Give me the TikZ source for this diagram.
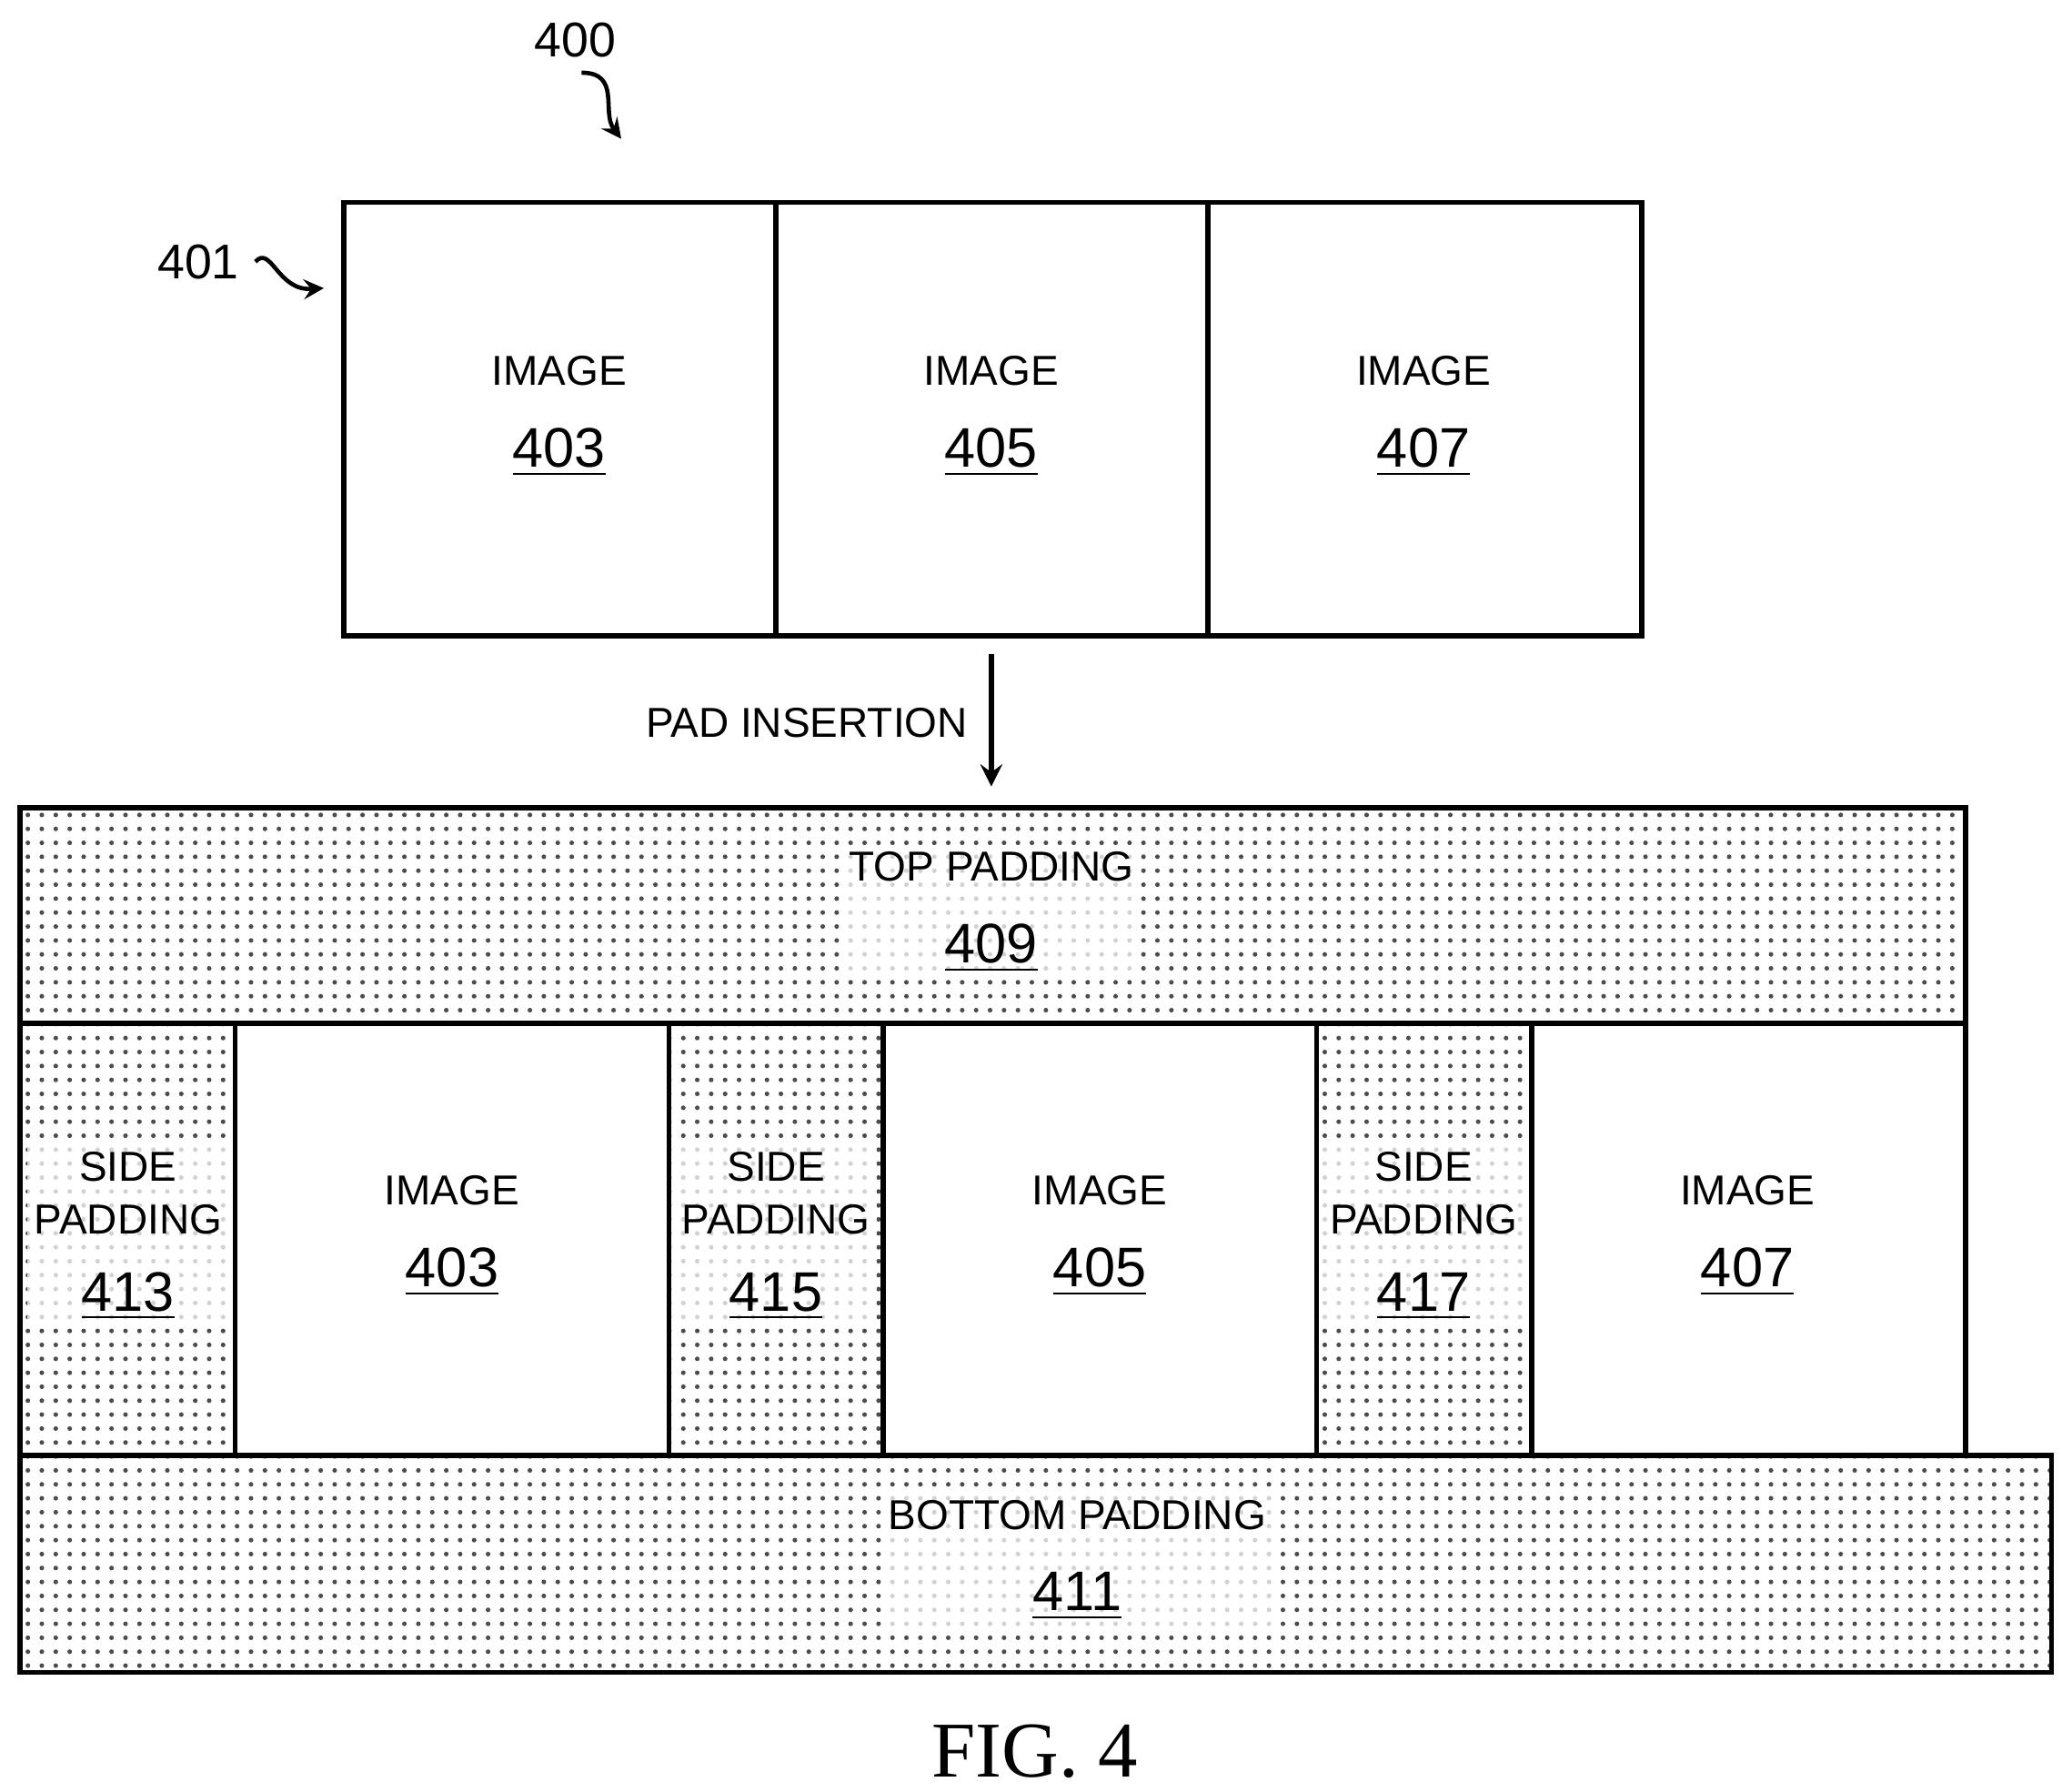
\documentclass[tikz,border=0pt]{standalone}
\usepackage{fontspec}
\setmainfont{Liberation Sans}
\newfontfamily\figfont{Liberation Serif}
\usetikzlibrary{patterns}

\tikzset{
  box/.style={draw, line width=1.1pt},
  pad/.style={box, pattern=dots, pattern color=black!70},
  lbl/.style={align=center, font=\fontsize{9}{11.5}\selectfont, inner sep=1.5pt},
  padlbl/.style={lbl, fill=white, fill opacity=0.75, text opacity=1},
  ref/.style={font=\fontsize{10.5}{12}\selectfont},
}
\newcommand{\refnum}[1]{\underline{\smash{\fontsize{12}{14}\selectfont #1}}}

\begin{document}
\begin{tikzpicture}[x=0.01cm, y=-0.01cm]
            \useasboundingbox (0,0) rectangle (1560,1355);

            % reference labels
            \node[ref] (n400) at (435,30) {400};
            \coordinate (t400) at (470,105);
            \draw[-stealth, line width=0.9pt] (440,55) .. controls (470,55) and (455,85) .. (t400);
            \node[ref] (n401) at (150,198) {401};
            \coordinate (t401) at (245,218);
            \draw[-stealth, line width=0.9pt] (n401.east) .. controls (205,185) and (210,220) .. (t401);

            % original frame
            \draw[box] (260,153) rectangle (1242,481);
            \draw[box] (587,153) -- (587,481);
            \draw[box] (914,153) -- (914,481);
            \node[lbl] (a403) at (423,315) {IMAGE\\[6pt]\refnum{403}};
            \node[lbl] (a405) at (750,315) {IMAGE\\[6pt]\refnum{405}};
            \node[lbl] (a407) at (1077,315) {IMAGE\\[6pt]\refnum{407}};

            % pad insertion
            \coordinate (s) at (750,495);
            \coordinate (e) at (750,595);
            \draw[-stealth, line width=1.1pt] (s) -- (e);
            \node[lbl, anchor=east] (pi) at (738,547) {PAD INSERTION};

            % padded frame
            \fill[pattern=dots, pattern color=black!70] (15,611) rectangle (1487,774)
              (15,774) rectangle (178,1101) (506,774) rectangle (668,1101)
              (996,774) rectangle (1159,1101) (15,1101) rectangle (1552,1265);

            \node[padlbl] (p409) at (750,690) {TOP PADDING\\[6pt]\refnum{409}};
            \node[padlbl] (p413) at (97,935) {SIDE\\PADDING\\[5pt]\refnum{413}};
            \node[padlbl] (p415) at (587,935) {SIDE\\PADDING\\[5pt]\refnum{415}};
            \node[padlbl] (p417) at (1077,935) {SIDE\\PADDING\\[5pt]\refnum{417}};
            \node[lbl] (b403) at (342,935) {IMAGE\\[6pt]\refnum{403}};
            \node[lbl] (b405) at (832,935) {IMAGE\\[6pt]\refnum{405}};
            \node[lbl] (b407) at (1322,935) {IMAGE\\[6pt]\refnum{407}};
            \node[padlbl] (p411) at (815,1180) {BOTTOM PADDING\\[6pt]\refnum{411}};

            \draw[box] (15,611) rectangle (1487,1101);
            \draw[box] (15,774) -- (1487,774);
            \foreach \x in {178,506,668,996,1159}
              \draw[box] (\x,774) -- (\x,1101);
            \draw[box] (15,1101) rectangle (1552,1265);

            \node[font=\figfont\fontsize{17}{20}\selectfont] (fig) at (783,1325) {FIG. 4};
\end{tikzpicture}
\end{document}
